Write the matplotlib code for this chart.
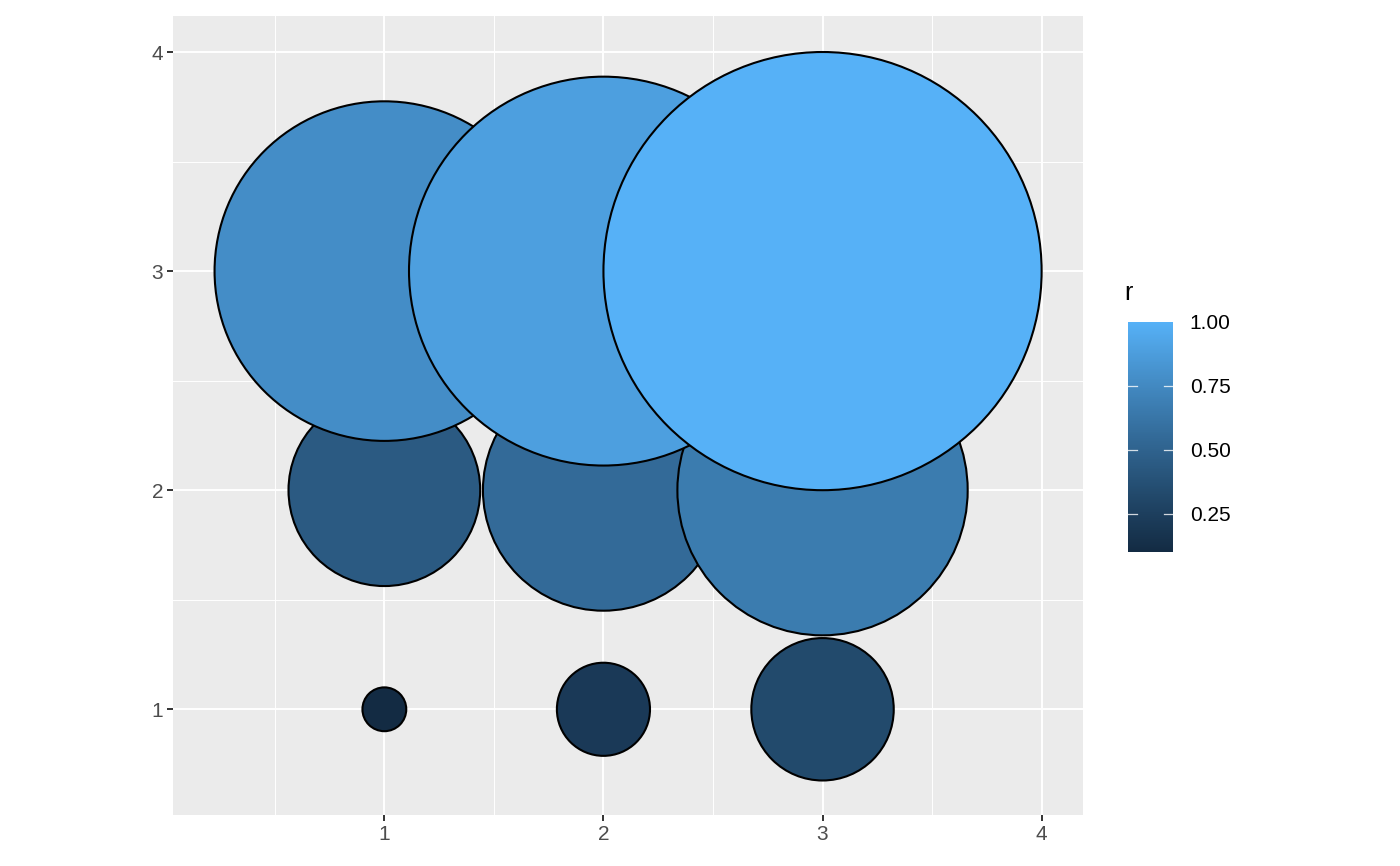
import numpy as np
import matplotlib.pyplot as plt
from matplotlib.patches import Circle
from matplotlib.colors import ListedColormap, Normalize
from matplotlib.cm import ScalarMappable

plt.rcParams['font.family'] = ['Liberation Sans', 'DejaVu Sans']

xs = [1, 2, 3, 1, 2, 3, 1, 2, 3]
ys = [1, 1, 1, 2, 2, 2, 3, 3, 3]
rs = [0.1, 0.2125, 0.325, 0.4375, 0.55, 0.6625, 0.775, 0.8875, 1.0]
ticks = [1, 2, 3, 4]
bar_ticks = [0.25, 0.50, 0.75, 1.00]
bar_labels = ['0.25', '0.50', '0.75', '1.00']


# ggplot style gradient: interpolate #132B43 -> #56B1F7 in Lab space
def srgb_to_lab(c):
    c = np.asarray(c, float)
    lin = np.where(c <= 0.04045, c / 12.92, ((c + 0.055) / 1.055) ** 2.4)
    m = np.array([[0.4124, 0.3576, 0.1805],
                  [0.2126, 0.7152, 0.0722],
                  [0.0193, 0.1192, 0.9505]])
    xyz = m @ lin / np.array([0.95047, 1.0, 1.08883])
    f = np.where(xyz > 0.008856, np.cbrt(xyz), 7.787 * xyz + 16 / 116)
    return np.array([116 * f[1] - 16, 500 * (f[0] - f[1]), 200 * (f[1] - f[2])])


def lab_to_srgb(lab):
    L, a, b = lab
    fy = (L + 16) / 116
    fx = fy + a / 500
    fz = fy - b / 200
    f = np.array([fx, fy, fz])
    xyz = np.where(f ** 3 > 0.008856, f ** 3, (f - 16 / 116) / 7.787)
    xyz = xyz * np.array([0.95047, 1.0, 1.08883])
    m = np.array([[3.2406, -1.5372, -0.4986],
                  [-0.9689, 1.8758, 0.0415],
                  [0.0557, -0.2040, 1.0570]])
    lin = m @ xyz
    c = np.where(lin <= 0.0031308, 12.92 * lin, 1.055 * np.clip(lin, 0, None) ** (1 / 2.4) - 0.055)
    return np.clip(c, 0, 1)


lo = srgb_to_lab(np.array([0x13, 0x2B, 0x43]) / 255)
hi = srgb_to_lab(np.array([0x56, 0xB1, 0xF7]) / 255)
cols = [lab_to_srgb(lo + t * (hi - lo)) for t in np.linspace(0, 1, 256)]
cmap = ListedColormap(cols)
norm = Normalize(vmin=min(rs), vmax=max(rs))

fig = plt.figure(figsize=(14, 8.66), dpi=100)
ax = fig.add_axes([0.1236, 0.0575, 0.6500, 0.9252])
ax.set_facecolor('#EBEBEB')

for x, y, r in zip(xs, ys, rs):
    ax.add_patch(Circle((x, y), r, facecolor=cmap(norm(r)), edgecolor='black',
                        linewidth=1.5, zorder=3))

ax.set_xlim(0.0355, 4.189)
ax.set_ylim(0.517, 4.164)
ax.set_aspect('equal', adjustable='box')

ax.set_xticks(ticks)
ax.set_yticks(ticks)
ax.set_xticks([0.5, 1.5, 2.5, 3.5], minor=True)
ax.set_yticks([1.5, 2.5, 3.5], minor=True)
ax.grid(which='major', color='white', linewidth=1.4, zorder=0)
ax.grid(which='minor', color='white', linewidth=0.7, zorder=0)
ax.set_axisbelow(True)
ax.tick_params(which='major', length=4, width=1.4, color='#333333',
               labelsize=15, labelcolor='#4D4D4D', pad=3)
ax.tick_params(which='minor', length=0)
for s in ax.spines.values():
    s.set_visible(False)

cax = fig.add_axes([0.8057, 0.3626, 0.0322, 0.2656])
sm = ScalarMappable(norm=norm, cmap=cmap)
cb = fig.colorbar(sm, cax=cax)
cb.outline.set_visible(False)
cb.set_ticks(bar_ticks)
cb.set_ticklabels(bar_labels)
cax.tick_params(length=0, labelsize=15, pad=12)
for t in bar_ticks[:-1]:
    cax.plot([0, 0.2], [t, t], color='white', lw=0.9, alpha=0.8, transform=cax.get_yaxis_transform())
    cax.plot([0.8, 1], [t, t], color='white', lw=0.9, alpha=0.8, transform=cax.get_yaxis_transform())
fig.text(0.8029, 0.648, 'r', fontsize=18, ha='left', va='bottom')

fig.savefig('out.png', dpi=100)
